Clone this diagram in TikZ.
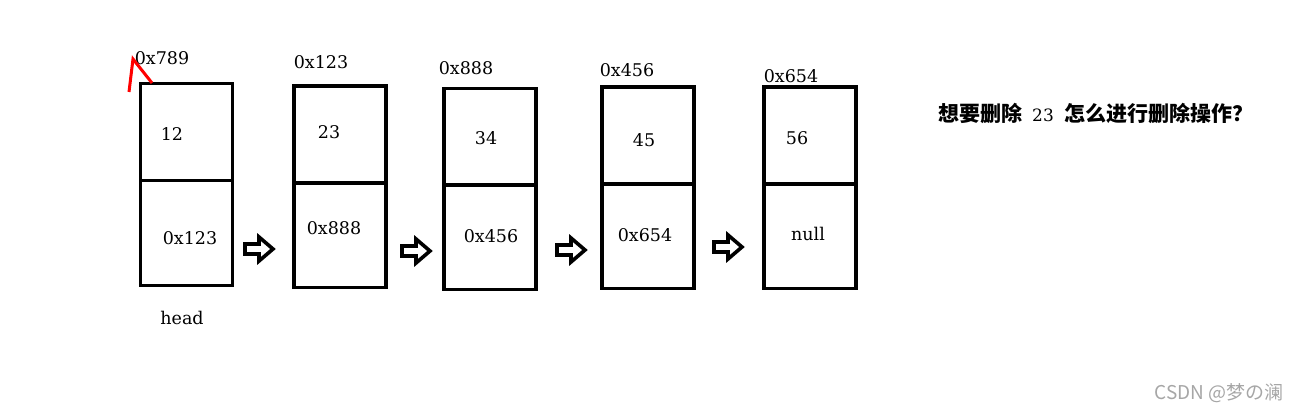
\documentclass[tikz,border=0pt]{standalone}
\usepackage{fontspec}
\setmainfont{DejaVu Serif}
\newfontfamily\cjk{Noto Sans CJK SC}
\begin{document}
\begin{tikzpicture}[x=1pt,y=-1pt,
  txt/.style={font=\fontsize{17.5}{21}\selectfont, inner sep=0pt},
  cell/.style={draw, line width=3.8pt, inner sep=0pt, minimum width=92pt},
  topcell/.style={cell, minimum height=97pt},
  botcell/.style={cell, minimum height=105pt},
  blockarrow/.pic={\draw[line width=3.6pt, line join=miter]
     (-14,-5) -- (0,-5) -- (0,-12) -- (14,0) -- (0,12) -- (0,5) -- (-14,5) -- cycle;}
]
\useasboundingbox (0,0) rectangle (1300,411);
% node 1
\node[topcell] (t1) at (186.5,132) {};
\node[botcell] (b1) at (186.5,233) {};
\node[txt] (v1) at (172,134) {12};
\node[txt] (p1) at (190,238) {0x123};
\node[txt] (a1) at (162,58) {0x789};
\node[txt] (head) at (182,318) {head};
% node 2
\node[topcell] (t2) at (340,134.5) {};
\node[botcell] (b2) at (340,235) {};
\node[txt] (v2) at (329,132) {23};
\node[txt] (p2) at (334,228) {0x888};
\node[txt] (a2) at (321,62) {0x123};
% node 3
\node[topcell] (t3) at (490,137) {};
\node[botcell] (b3) at (490,237) {};
\node[txt] (v3) at (486,138) {34};
\node[txt] (p3) at (491,236) {0x456};
\node[txt] (a3) at (466,68) {0x888};
% node 4
\node[topcell] (t4) at (648,135.5) {};
\node[botcell] (b4) at (648,236) {};
\node[txt] (v4) at (644,140) {45};
\node[txt] (p4) at (645,235) {0x654};
\node[txt] (a4) at (627,70) {0x456};
% node 5
\node[topcell] (t5) at (810,135.5) {};
\node[botcell] (b5) at (810,236) {};
\node[txt] (v5) at (797,138) {56};
\node[txt] (p5) at (808,234) {null};
\node[txt] (a5) at (791,76) {0x654};
% block arrows
\pic (r1) at (259,249) {blockarrow};
\pic (r2) at (416,251) {blockarrow};
\pic (r3) at (571,250) {blockarrow};
\pic (r4) at (728,247) {blockarrow};
% red mark
\coordinate (m1) at (129,92);
\coordinate (m2) at (133,59);
\coordinate (m3) at (152,83);
\draw[red, line width=3pt] (m1) -- (m2) -- (m3);
% question
\node[inner sep=0pt, anchor=west] (q) at (938,113)
  {{\cjk\bfseries\fontsize{21}{24}\selectfont 想要删除}\hspace{10pt}{\fontsize{17}{21}\selectfont 23}\hspace{11pt}{\cjk\bfseries\fontsize{21}{24}\selectfont 怎么进行删除操作？}};
% watermark
\node[inner sep=0pt, text=black!35, font=\cjk\fontsize{19}{22}\selectfont] (wm) at (1219,393) {CSDN @梦の澜};
\end{tikzpicture}
\end{document}
